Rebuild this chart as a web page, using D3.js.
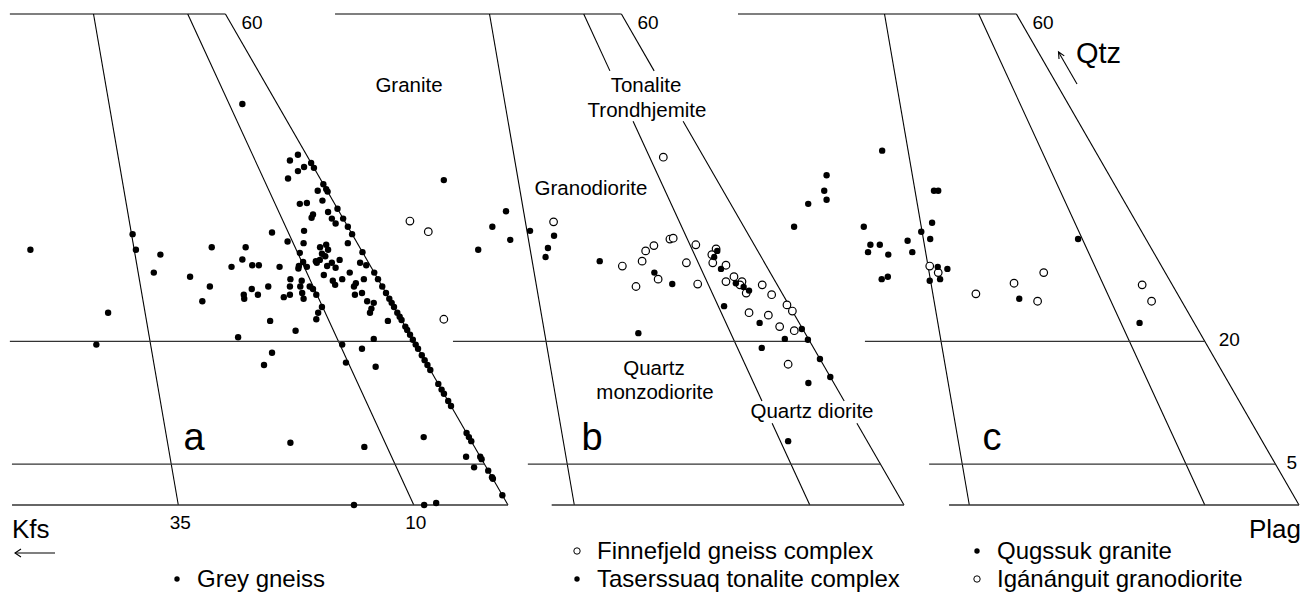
<!DOCTYPE html>
<html>
<head>
<meta charset="utf-8">
<script src="https://cdn.jsdelivr.net/npm/d3@7"></script>
<style>
  html, body { margin: 0; padding: 0; background: #fff; }
  svg { display: block; font-family: "Liberation Sans", Arial, Helvetica, sans-serif; }
</style>
</head>
<body>
<svg id="chart" width="1302" height="592"></svg>
<script>
// Modal compositions as [Qtz %, Kfs %]; Plag % = 100 - Qtz - Kfs.

// a: Grey gneiss
const greyGneiss = [
  [49.0,3.7],[42.8,0.9],[42.1,2.1],[41.3,1.0],[40.8,1.9],[39.9,3.4],[38.4,1.0],[37.2,1.1],
  [36.8,3.7],[36.9,2.9],[35.8,1.2],[35.5,2.95],[35.1,3.3],[35.0,1.2],[34.4,1.1],[33.5,4.9],
  [33.3,8.4],[32.2,7.3],[32.0,5.7],[31.5,4.2],[31.8,3.4],[31.2,3.5],[32.0,1.0],[33.1,23.3],
  [31.2,23.9],[30.6,21.6],[31.5,15.7],[31.5,12.1],[31.2,35.1],[30.8,6.7],[30.0,13.2],[29.1,14.8],
  [29.3,12.5],[29.3,11.8],[29.1,9.7],[29.7,6.9],[29.2,7.6],[29.1,6.8],[29.95,5.0],[30.4,4.2],
  [29.6,3.9],[29.95,2.9],[29.6,0.9],[29.3,0.4],[29.2,4.6],[29.0,3.8],[29.6,5.5],[30.7,4.4],
  [29.8,5.5],[28.4,23.4],[27.9,19.8],[26.7,18.3],[24.9,20.0],[26.4,14.0],[25.7,15.2],[25.2,15.4],
  [25.7,13.7],[26.7,12.1],[25.4,11.1],[25.7,10.3],[26.7,9.8],[27.6,9.3],[26.7,8.7],[27.4,8.2],
  [25.9,8.9],[25.2,9.1],[28.9,7.8],[26.7,7.7],[26.4,7.5],[25.7,7.5],[28.1,5.5],[27.4,4.9],
  [26.9,4.9],[27.6,3.8],[28.4,2.6],[27.1,2.6],[26.7,3.0],[25.9,2.55],[25.7,3.4],[24.9,2.5],
  [24.7,1.9],[24.0,2.5],[23.5,2.9],[27.6,1.5],[22.5,1.5],[24.2,7.65],[23.5,8.4],[22.7,9.0],
  [23.5,30.7],[22.5,14.0],[21.3,11.9],[20.5,18.4],[18.6,15.75],[17.1,17.35],[19.6,33.9],[20.3,4.1],
  [19.1,5.95],[16.9,5.6],[19.6,7.8],[17.4,8.5],[7.6,19.3],[7.1,11.7],[0,16.35],[8.3,4.8],
  [0,8.9],[0.25,7.5],[5.9,1.5],[4.6,1.3]
];
// a: Grey gneiss samples free of K-feldspar (Qtz %, on the Qtz-Plag join)
const greyGneissNoKfs = [
  41.8,41.2,39.2,38.6,38.3,36.2,35.0,34.0,33.1,30.9,28.4,27.6,26.7,25.9,25.2,24.7,24.2,23.5,
  23.0,22.6,21.8,21.4,20.8,20.2,19.6,19.1,18.3,17.7,17.1,16.5,14.8,14.1,13.6,12.7,12.1,8.8,
  8.3,7.8,5.9,5.6,4.2,3.4,3.2,1.2
];
// b: Finnefjeld gneiss complex
const finnefjeld = [
  [34.7,35.1],[33.4,33.8],[22.7,37.5],[34.6,19.9],[42.5,4.3],[29.2,15.3],[26.7,15.1],[29.8,12.9],
  [31.05,11.9],[31.7,10.7],[32.5,8.6],[32.6,8.2],[27.6,12.3],[29.6,8.3],[31.8,6.2],[27.0,8.4],
  [31.3,4.3],[30.6,5.1],[29.6,5.5],[29.3,4.25],[27.3,5.25],[27.9,4.1],[27.3,3.55],[26.9,3.96],
  [25.9,3.8],[26.9,1.6],[25.7,1.2],[23.5,4.7],[23.2,2.8],[24.45,0.2],[23.7,0.0],[21.8,2.3],
  [21.3,1.0],[17.2,3.7]
];
// b: Taserssuaq tonalite complex
const taserssuaq = [
  [39.7,29.0],[35.9,24.3],[34.0,26.7],[32.4,25.6],[31.2,29.6],[33.5,22.95],[32.9,20.7],[31.4,22.1],
  [30.3,22.9],[29.8,17.4],[28.4,12.3],[27.0,11.1],[31.05,4.3],[30.3,5.0],[28.85,5.0],[27.1,4.3],
  [26.65,3.7],[26.2,3.35],[24.3,6.95],[22.25,4.2],[21.0,17.7],[21.5,0.1],[20.3,2.5],[20.2,0.1],
  [19.2,5.5],[17.85,0],[15.65,0],[14.9,2.7],[7.8,8.4]
];
// c: Qugssuk granite
const qugssuk = [
  [43.3,22.6],[38.4,19.55],[38.4,19.1],[34.5,21.7],[33.4,23.4],[32.5,22.9],[32.3,25.4],[30.9,25.6],
  [34.0,29.2],[31.8,29.6],[31.8,28.6],[30.9,30.3],[30.6,28.3],[32.5,7.2],[27.6,30.5],[27.9,29.7],
  [27.4,25.5],[29.1,23.8],[28.85,22.9],[27.6,24.3],[25.2,17.1],[22.25,5.8],[40.3,30.0],[38.4,31.2],
  [37.3,31.5],[36.8,33.7],[34.0,36.6]
];
// c: Igánánguit granodiorite
const iganaanguit = [
  [29.2,24.6],[28.4,24.1],[25.8,21.4],[27.1,16.7],[28.4,12.9],[24.9,15.3],[26.9,3.2],[24.9,3.2]
];

// Diagram frame
const panels = ["a", "b", "c"];
const kfsRatioLines = [35, 10];          // Kfs/(Kfs+Plag) %, field boundaries
const kfsRatioLabels = ["35", "10"];
const qtzLevels = [60, 20, 5, 0];        // Qtz % boundaries
// left end of each Qtz-level line, as Kfs/(Kfs+Plag) %
const levelLeftEnd = {
  a: [57.2, 53.6, 52.8, 52.65],
  b: [76.0, 47.35, 39.4, 37.4],
  c: [73.9, 45.1, 38.7, 37.15]
};
// Qtz % ranges left open around the field names of panel b
const labelGaps = [[46.9, 53.05], [10.0, 12.7]];

const fieldNames = [
  { text: "Granite",        x: 409, y: 92 },
  { text: "Tonalite",       x: 646, y: 92 },
  { text: "Trondhjemite",   x: 647, y: 117 },
  { text: "Granodiorite",   x: 591, y: 195 },
  { text: "Quartz",         x: 654, y: 375 },
  { text: "monzodiorite",   x: 655, y: 399 },
  { text: "Quartz diorite", x: 812, y: 418 }
];

const legendItems = [
  { label: "Grey gneiss",                 open: false, col: 0, row: 1 },
  { label: "Finnefjeld gneiss complex",   open: true,  col: 1, row: 0 },
  { label: "Taserssuaq tonalite complex", open: false, col: 1, row: 1 },
  { label: "Qugssuk granite",             open: false, col: 2, row: 0 },
  { label: "Igánánguit granodiorite",     open: true,  col: 2, row: 1 }
];

// ---- scales: equilateral QAP geometry, one copy per panel ----
const base = 942;                                          // px for 100 % along the base
const yQ = d3.scaleLinear().domain([0, 60]).range([505, 14]);
const along = d3.scaleLinear().domain([0, 100]).range([0, base]);
const plagCorner = d3.scaleOrdinal().domain(panels).range([508, 904, 1299]);

function proj(panel, q, kfs) {
  return [plagCorner(panel) - along(kfs + q / 2), yQ(q)];
}
function onRatio(r, q) { return r * (100 - q) / 100; }

function splitRange(q0, q1, gaps) {
  let segs = [[q0, q1]];
  gaps.forEach(([g0, g1]) => {
    segs = segs.flatMap(([a, b]) => {
      if (g1 <= a || g0 >= b) return [[a, b]];
      const out = [];
      if (g0 > a) out.push([a, g0]);
      if (g1 < b) out.push([g1, b]);
      return out;
    });
  });
  return segs;
}

const svg = d3.select("#chart");
const line = d3.line();

// ---- frame lines ----
const gFrame = svg.append("g").attr("fill", "none");
panels.forEach(p => {
  [...kfsRatioLines, 0].forEach(r => {
    const gaps = (p === "b" && r !== 35) ? labelGaps : [];
    splitRange(0, 60, gaps).forEach(([a, b]) => {
      gFrame.append("path")
        .attr("d", line([proj(p, a, onRatio(r, a)), proj(p, b, onRatio(r, b))]))
        .attr("stroke", "#000").attr("stroke-width", 1.1);
    });
  });
  qtzLevels.forEach((q, j) => {
    const k = levelLeftEnd[p][j];
    gFrame.append("path")
      .attr("d", line([proj(p, q, onRatio(k, q)), proj(p, q, 0)]))
      .attr("stroke", q === 60 ? "#000" : "#333")
      .attr("stroke-width", q === 60 ? 1.1 : 1.3);
  });
});

// ---- samples ----
const sampleSets = [
  { panel: "a", data: greyGneiss, open: false },
  { panel: "a", data: greyGneissNoKfs.map(q => [q, 0]), open: false },
  { panel: "b", data: finnefjeld, open: true },
  { panel: "b", data: taserssuaq, open: false },
  { panel: "c", data: iganaanguit, open: true },
  { panel: "c", data: qugssuk, open: false }
];
const gPts = svg.append("g");
sampleSets.forEach(set => {
  gPts.selectAll(null).data(set.data).join("circle")
    .attr("cx", d => proj(set.panel, d[0], d[1])[0])
    .attr("cy", d => proj(set.panel, d[0], d[1])[1])
    .attr("r", set.open ? 3.8 : 3.2)
    .attr("fill", set.open ? "#fff" : "#000")
    .attr("stroke", set.open ? "#000" : "none")
    .attr("stroke-width", 1.2);
});

// ---- text ----
const gTxt = svg.append("g").attr("fill", "#000");

// Qtz 60 at the top corner of each panel
panels.forEach(p => {
  const [x, y] = proj(p, 60, 0);
  gTxt.append("text").attr("x", x + 16).attr("y", y + 15)
    .attr("font-size", 19).text("60");
});
// Kfs/(Kfs+Plag) values under panel a
kfsRatioLines.forEach((r, i) => {
  const [x, y] = proj("a", 0, r);
  gTxt.append("text").attr("x", x + 2).attr("y", y + 24)
    .attr("text-anchor", "middle").attr("font-size", 19).text(kfsRatioLabels[i]);
});
// Qtz 20 and 5 beside panel c
[[20, "20", 14], [5, "5", 11]].forEach(([q, t, dx]) => {
  const [x, y] = proj("c", q, 0);
  gTxt.append("text").attr("x", x + dx).attr("y", y + 5)
    .attr("font-size", 19).text(t);
});

fieldNames.forEach(f => {
  gTxt.append("text").attr("x", f.x).attr("y", f.y)
    .attr("text-anchor", "middle").attr("font-size", 20.5).text(f.text);
});

// panel letters
[["a", 194], ["b", 592], ["c", 992]].forEach(([t, x]) => {
  gTxt.append("text").attr("x", x).attr("y", 450)
    .attr("text-anchor", "middle").attr("font-size", 38).text(t);
});

// apex labels and direction arrows
gTxt.append("text").attr("x", 1076).attr("y", 63).attr("font-size", 29).text("Qtz");
gTxt.append("text").attr("x", 12).attr("y", 538).attr("font-size", 26).text("Kfs");
gTxt.append("text").attr("x", 1301).attr("y", 538).attr("text-anchor", "end")
  .attr("font-size", 26).text("Plag");

const gArr = svg.append("g").attr("fill", "none").attr("stroke", "#000").attr("stroke-width", 1.1);
(function qtzArrow() {
  const ux = -0.5, uy = -Math.sqrt(3) / 2;   // parallel to the Qtz-Plag edge
  const tail = [1077, 84], len = 37;
  const tip = [tail[0] + ux * len, tail[1] + uy * len];
  gArr.append("path").attr("d", line([tail, tip]));
  const a = Math.atan2(uy, ux), h = 7, sp = 0.45;
  gArr.append("path").attr("d", line([
    [tip[0] - h * Math.cos(a - sp), tip[1] - h * Math.sin(a - sp)], tip,
    [tip[0] - h * Math.cos(a + sp), tip[1] - h * Math.sin(a + sp)]
  ]));
})();
gArr.append("path").attr("d", line([[55, 553], [15, 553]]));
gArr.append("path").attr("d", line([[21, 549], [15, 553], [21, 557]]));

// ---- legend ----
const legText = [197, 597, 997];   // text start of each legend column
const legRows = [559, 587];
const gLeg = svg.append("g");
legendItems.forEach(it => {
  const x = legText[it.col], y = legRows[it.row];
  gLeg.append("circle").attr("cx", x - 20).attr("cy", y - 8)
    .attr("r", it.open ? 3.2 : 2.7)
    .attr("fill", it.open ? "#fff" : "#000")
    .attr("stroke", it.open ? "#000" : "none").attr("stroke-width", 1);
  gLeg.append("text").attr("x", x).attr("y", y)
    .attr("font-size", 24).text(it.label);
});
</script>
</body>
</html>
